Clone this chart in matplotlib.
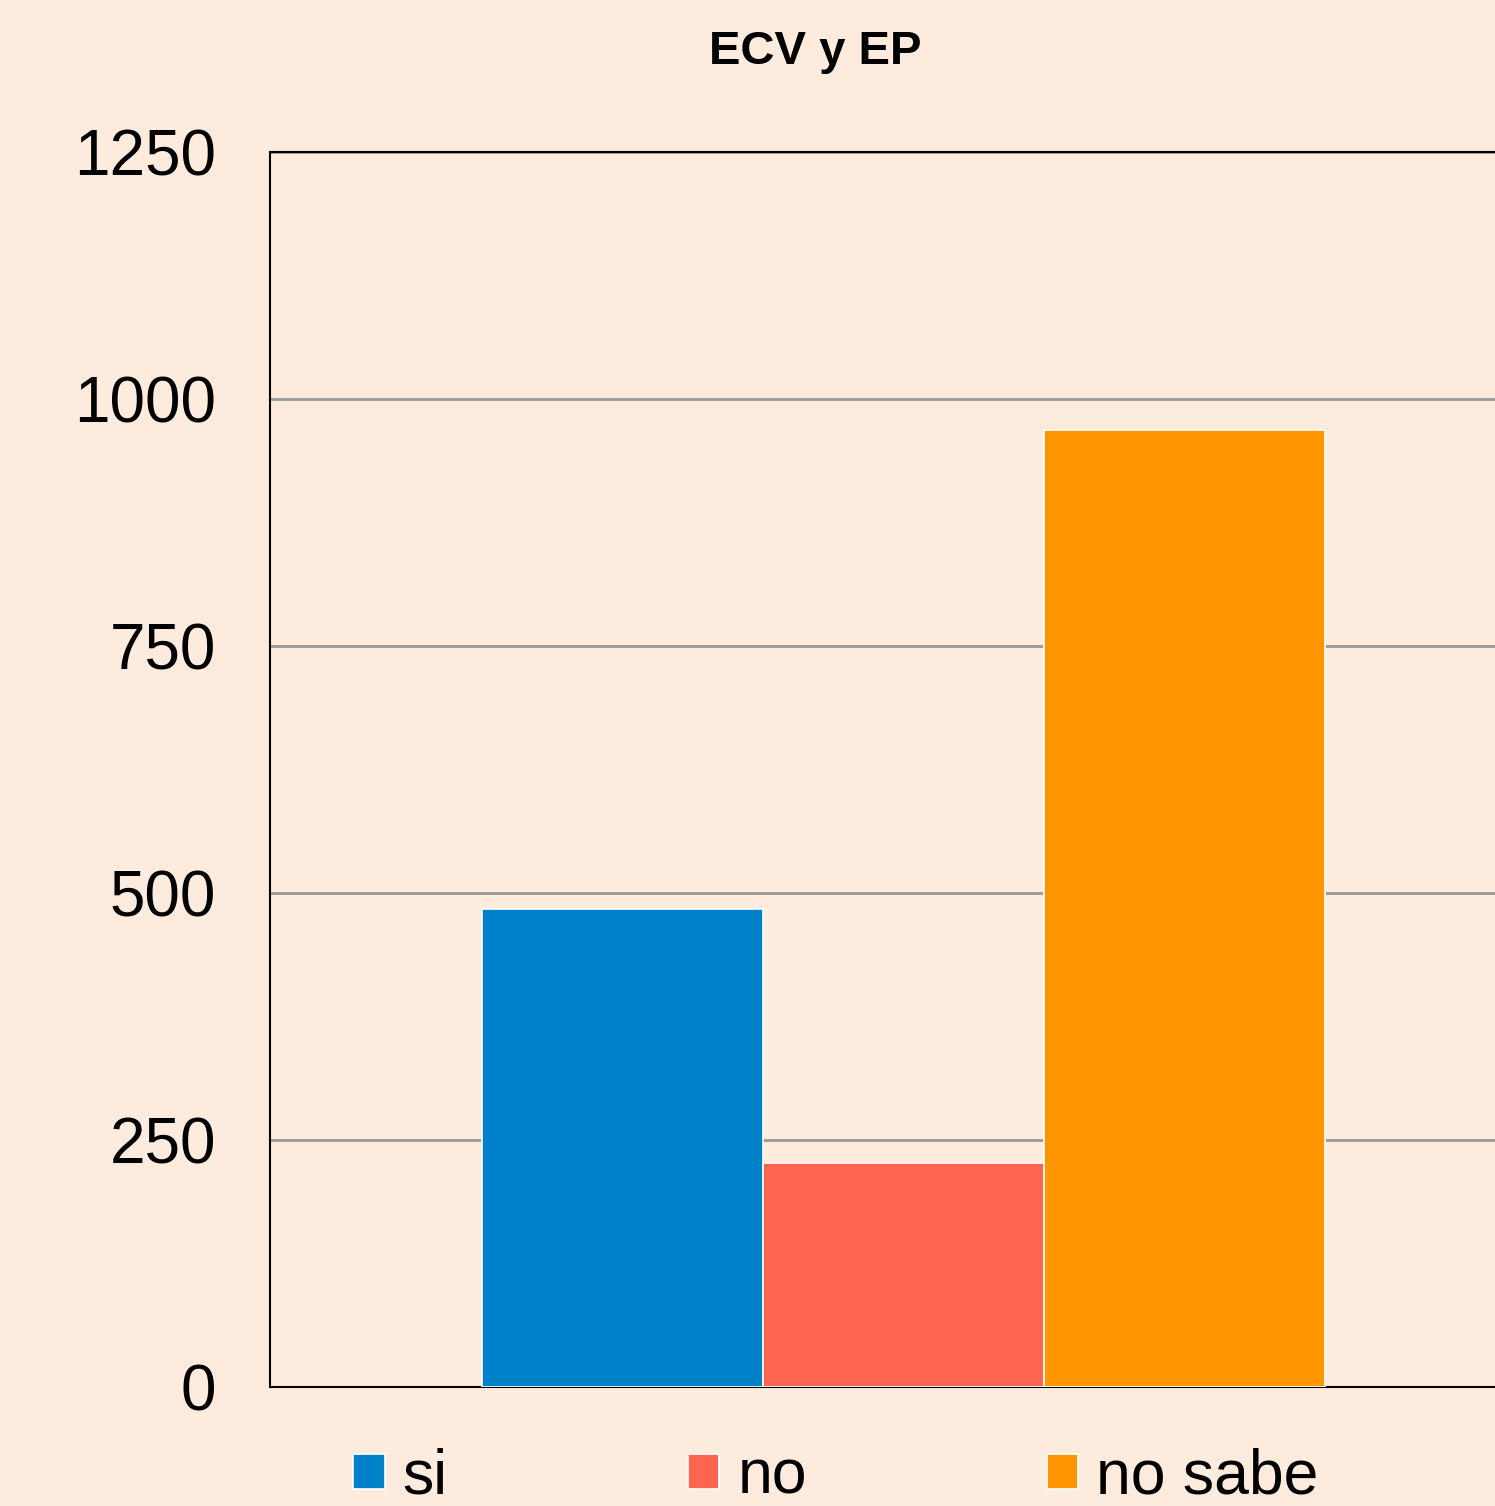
import matplotlib.pyplot as plt
import numpy as np

plt.rcParams['font.family'] = ['Liberation Sans', 'DejaVu Sans']

# data
title = "ECV y EP"
labels = ["si", "no", "no sabe"]
values = [484, 227, 969]
colors = ["#0082CA", "#FF6450", "#FF9500"]
yticks = [0, 250, 500, 750, 1000, 1250]

bg = "#FDEBDD"
W, H = 1495, 1506
fig = plt.figure(figsize=(W/100, H/100), dpi=100, facecolor=bg)

# axes runs off the right edge like the original
ax = fig.add_axes([270/W, 119/H, 1267/W, 1235/H], facecolor=bg)

bw = 281/1267
pos = (np.arange(len(values)) - 1) * bw
for p, v, c, lab in zip(pos, values, colors, labels):
	ax.bar(p, v, width=bw, color=c, edgecolor="white", linewidth=1.2, label=lab, zorder=3)

ax.set_xlim(-0.5, 0.5)
ax.set_ylim(0, 1250)
ax.set_yticks(yticks)
ax.set_xticks([])
ax.tick_params(axis='y', length=0, pad=39, labelsize=46)
ax.yaxis.grid(True, color="#999999", linewidth=2, zorder=0)
ax.set_axisbelow(True)
for s in ax.spines.values():
	s.set_color("black")
	s.set_linewidth(1.5)

fig.text(815/W, 1 - 52/H, title, ha='center', va='center', fontsize=34, fontweight='bold')

fig.legend(loc='center', bbox_to_anchor=(836/W, 29/H), ncol=3, frameon=False,
	fontsize=45, handlelength=0.5, handleheight=0.5, handletextpad=0.29,
	columnspacing=3.84, borderpad=0, borderaxespad=0)

fig.savefig("out.png", dpi=100, facecolor=bg)
